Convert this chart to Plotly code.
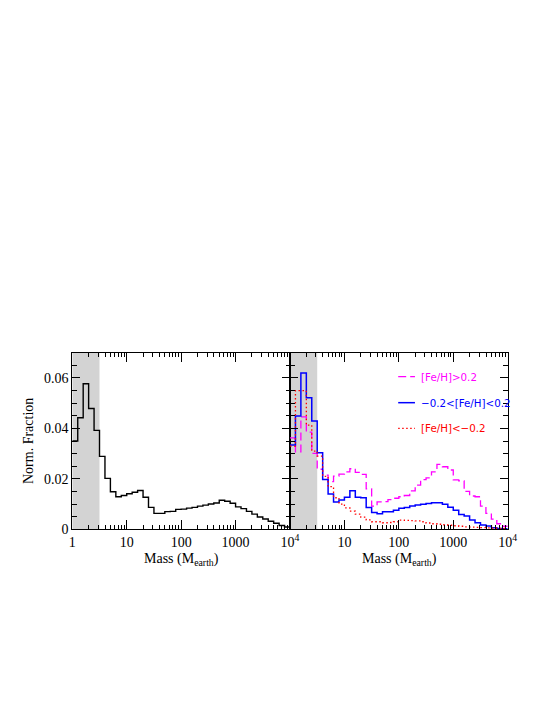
"""
Planet mass histograms: all systems (left) and split by host metallicity (right).
"""

import numpy as np
import plotly.graph_objects as go

# 0.1 dex bins in log10(M / M_earth), 1 .. 10^4
LOG_EDGES = np.linspace(0.0, 4.0, 41)

FRAC_ALL = [
    0.0350, 0.0442, 0.0577, 0.0479, 0.0392, 0.0289, 0.0202, 0.0149, 0.0129, 0.0134,
    0.0141, 0.0147, 0.0154, 0.0127, 0.0087, 0.0063, 0.0063, 0.0070, 0.0071, 0.0079,
    0.0080, 0.0084, 0.0087, 0.0092, 0.0096, 0.0100, 0.0104, 0.0115, 0.0111, 0.0103,
    0.0089, 0.0082, 0.0071, 0.0060, 0.0049, 0.0041, 0.0032, 0.0024, 0.0015, 0.0009,
]
FRAC_METAL_RICH = [
    0.0362, 0.0307, 0.0446, 0.0385, 0.0301, 0.0238, 0.0215, 0.0189, 0.0211, 0.0219,
    0.0228, 0.0240, 0.0226, 0.0218, 0.0160, 0.0092, 0.0109, 0.0110, 0.0118, 0.0123,
    0.0129, 0.0134, 0.0152, 0.0175, 0.0197, 0.0204, 0.0228, 0.0257, 0.0248, 0.0235,
    0.0196, 0.0192, 0.0150, 0.0132, 0.0129, 0.0092, 0.0063, 0.0040, 0.0022, 0.0012,
]
FRAC_SOLAR = [
    0.0334, 0.0449, 0.0620, 0.0521, 0.0429, 0.0303, 0.0197, 0.0140, 0.0108, 0.0116,
    0.0127, 0.0153, 0.0127, 0.0125, 0.0086, 0.0067, 0.0062, 0.0070, 0.0070, 0.0076,
    0.0083, 0.0086, 0.0092, 0.0096, 0.0099, 0.0102, 0.0105, 0.0105, 0.0099, 0.0087,
    0.0076, 0.0059, 0.0053, 0.0037, 0.0026, 0.0017, 0.0013, 0.0006, 0.0003, 0.0002,
]
FRAC_METAL_POOR = [
    0.0330, 0.0550, 0.0550, 0.0413, 0.0310, 0.0290, 0.0210, 0.0169, 0.0125, 0.0100,
    0.0085, 0.0072, 0.0060, 0.0048, 0.0037, 0.0030, 0.0030, 0.0026, 0.0027, 0.0030,
    0.0036, 0.0035, 0.0034, 0.0033, 0.0030, 0.0025, 0.0022, 0.0020, 0.0018, 0.0016,
    0.0014, 0.0012, 0.0010, 0.0009, 0.0008, 0.0007, 0.0006, 0.0005, 0.0004, 0.0004,
]

SERIES = [
    ("[Fe/H]>0.2", FRAC_METAL_RICH, "#ff00ff", "8px,4px", 1.3),
    ("\u22120.2<[Fe/H]<0.2", FRAC_SOLAR, "#0000ff", "solid", 1.5),
    ("[Fe/H]<\u22120.2", FRAC_METAL_POOR, "#ff0000", "1.5px,2.5px", 1.3),
]

X_TICKS_LEFT = [1, 10, 100, 1000, 10000]
X_TEXT_LEFT = ["1", "10", "100", "1000", "10<sup>4</sup>"]
X_TICKS_RIGHT = [10, 100, 1000, 10000]
X_TEXT_RIGHT = ["10", "100", "1000", "10<sup>4</sup>"]
Y_TICKS = [0, 0.02, 0.04, 0.06]
Y_TEXT = ["0", "0.02", "0.04", "0.06"]

SHADE_MAX = 10 ** 0.5
SERIF = "Liberation Serif, Times New Roman, serif"
MINOR_X = [m * 10 ** d for d in range(4) for m in range(2, 10)]

# the page body adds an 8px margin, so the figure is drawn 8px in from the window
W, H, PAD = 545, 707, 8


def _px(x):
    return (x - PAD) / W


def _py(y):
    return 1 - (y - PAD) / H


def _step_trace(values, color, dash, xaxis, yaxis, width=1.3):
    x = list(10 ** LOG_EDGES)
    y = list(values) + [values[-1]]
    return go.Scatter(
        x=x, y=y, mode="lines", line_shape="hv",
        line=dict(color=color, width=width, dash=dash),
        xaxis=xaxis, yaxis=yaxis, showlegend=False, hoverinfo="skip",
    )


def _x_axis(domain, tickvals, ticktext, anchor):
    return dict(
        type="log", range=[0, 4], domain=domain, anchor=anchor, automargin=False,
        tickmode="array", tickvals=tickvals, ticktext=ticktext,
        ticks="inside", ticklen=9, tickwidth=1, tickcolor="black",
        minor=dict(tickmode="array", tickvals=MINOR_X, ticks="inside",
                   ticklen=4.5, tickwidth=1, tickcolor="black"),
        showline=True, linecolor="black", linewidth=1, mirror="ticks",
        showgrid=False, zeroline=False,
        tickfont=dict(family=SERIF, size=14, color="black"),
    )


def _y_axis(domain, anchor, labels=True):
    return dict(
        range=[0, 0.07], domain=domain, anchor=anchor, automargin=False,
        tickmode="array", tickvals=Y_TICKS, ticktext=Y_TEXT,
        showticklabels=labels,
        ticks="inside", ticklen=8, tickwidth=1, tickcolor="black",
        minor=dict(dtick=0.005, ticks="inside", ticklen=4.5,
                   tickwidth=1, tickcolor="black"),
        showline=True, linecolor="black", linewidth=1, mirror="ticks",
        showgrid=False, zeroline=False,
        tickfont=dict(family=SERIF, size=14, color="black"),
    )


fig = go.Figure()
fig.add_trace(_step_trace(FRAC_ALL, "black", "solid", "x", "y", width=1.4))
for _, vals, color, dash, lw in SERIES:
    fig.add_trace(_step_trace(vals, color, dash, "x2", "y2", width=lw))

# shaded low-mass region in both panels
for xr, yr in (("x", "y"), ("x2", "y2")):
    fig.add_shape(type="rect", xref=xr, yref=f"{yr} domain",
                  x0=1, x1=SHADE_MAX, y0=0, y1=1,
                  fillcolor="#d3d3d3", line_width=0, layer="below")

# hand-drawn key in the right panel
legend_y = [0.864, 0.717, 0.572]
for (label, _, color, dash, lw), ly in zip(SERIES, legend_y):
    fig.add_shape(type="line", xref="x2 domain", yref="y2 domain",
                  x0=0.497, x1=0.574, y0=ly, y1=ly,
                  line=dict(color=color, width=lw, dash=dash))
    fig.add_annotation(xref="x2 domain", yref="y2 domain", x=0.594, y=ly,
                       text=label, showarrow=False, xanchor="left", yanchor="middle",
                       font=dict(family="DejaVu Sans, sans-serif", size=10.3, color=color))

# axis titles
title_font = dict(family=SERIF, size=14, color="black")
fig.add_annotation(xref="paper", yref="paper", x=_px(28), y=_py(441),
                   text="Norm. Fraction", textangle=-90, showarrow=False,
                   xanchor="center", yanchor="middle", font=title_font)
for cx in (181, 399):
    fig.add_annotation(xref="paper", yref="paper", x=_px(cx), y=_py(559),
                       text="Mass (M<sub>earth</sub>)", showarrow=False,
                       xanchor="center", yanchor="middle", font=title_font)

dom_y = [_py(529.3), _py(352.7)]
fig.update_layout(
    width=W, height=H,
    margin=dict(l=0, r=0, t=0, b=0, autoexpand=False),
    paper_bgcolor="white", plot_bgcolor="white",
    showlegend=False,
    xaxis=_x_axis([_px(72.3), _px(290)], X_TICKS_LEFT, X_TEXT_LEFT, "y"),
    yaxis=_y_axis(dom_y, "x"),
    xaxis2=_x_axis([_px(290), _px(507.7)], X_TICKS_RIGHT, X_TEXT_RIGHT, "y2"),
    yaxis2=_y_axis(dom_y, "x2", labels=False),
)

fig.write_html("out.html")
